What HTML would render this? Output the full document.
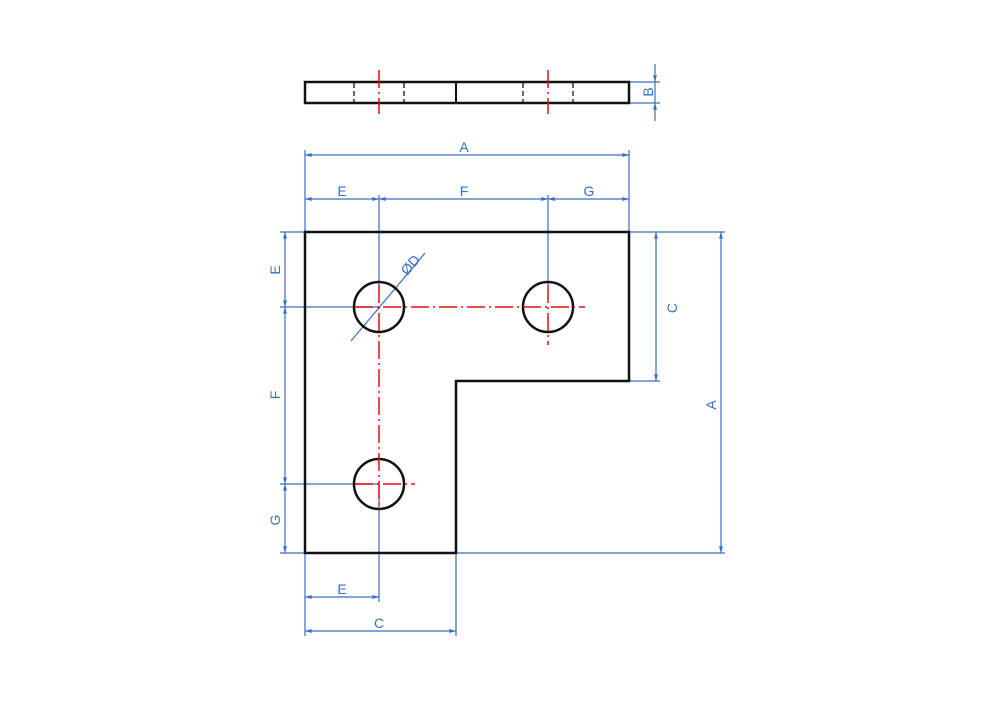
<!DOCTYPE html>
<html><head><style>html,body{margin:0;padding:0;background:#fff}</style></head>
<body>
<svg width="1000" height="700" viewBox="0 0 1000 700" xmlns="http://www.w3.org/2000/svg">
<defs>
<marker id="ar" viewBox="0 0 10 6" refX="10" refY="3" markerWidth="8" markerHeight="4" orient="auto-start-reverse" markerUnits="userSpaceOnUse">
<path d="M0,0 L10,3 L0,6 Z" fill="#3a6fc4"/></marker>
</defs>
<g stroke="#3a6fc4" stroke-width="1.2" fill="none">
<!-- top view B -->
<line x1="629" y1="82" x2="660" y2="82"/><line x1="629" y1="103" x2="660" y2="103"/>
<line x1="655" y1="64" x2="655" y2="82" marker-end="url(#ar)"/>
<line x1="655" y1="121" x2="655" y2="103" marker-end="url(#ar)"/>
<line x1="655" y1="82" x2="655" y2="103"/>
<!-- A top -->
<line x1="305" y1="150" x2="305" y2="240"/><line x1="629" y1="150" x2="629" y2="282"/>
<line x1="305" y1="155" x2="629" y2="155" marker-start="url(#ar)" marker-end="url(#ar)"/>
<line x1="379" y1="195" x2="379" y2="290"/><line x1="548" y1="195" x2="548" y2="285"/>
<line x1="305" y1="199" x2="379" y2="199" marker-start="url(#ar)" marker-end="url(#ar)"/>
<line x1="379" y1="199" x2="548" y2="199" marker-start="url(#ar)" marker-end="url(#ar)"/>
<line x1="548" y1="199" x2="629" y2="199" marker-start="url(#ar)" marker-end="url(#ar)"/>
<!-- left -->
<line x1="280" y1="232" x2="305" y2="232"/><line x1="280" y1="307" x2="379" y2="307"/>
<line x1="280" y1="484" x2="379" y2="484"/><line x1="280" y1="553" x2="305" y2="553"/>
<line x1="285" y1="232" x2="285" y2="307" marker-start="url(#ar)" marker-end="url(#ar)"/>
<line x1="285" y1="307" x2="285" y2="484" marker-start="url(#ar)" marker-end="url(#ar)"/>
<line x1="285" y1="484" x2="285" y2="553" marker-start="url(#ar)" marker-end="url(#ar)"/>
<!-- right -->
<line x1="629" y1="232" x2="725" y2="232"/><line x1="629" y1="381" x2="660" y2="381"/>
<line x1="456" y1="553" x2="725" y2="553"/>
<line x1="656" y1="232" x2="656" y2="381" marker-start="url(#ar)" marker-end="url(#ar)"/>
<line x1="721" y1="232" x2="721" y2="553" marker-start="url(#ar)" marker-end="url(#ar)"/>
<!-- bottom -->
<line x1="305" y1="553" x2="305" y2="636"/><line x1="379" y1="484" x2="379" y2="602"/>
<line x1="456" y1="553" x2="456" y2="636"/>
<line x1="305" y1="597" x2="379" y2="597" marker-start="url(#ar)" marker-end="url(#ar)"/>
<line x1="305" y1="631" x2="456" y2="631" marker-start="url(#ar)" marker-end="url(#ar)"/>
<!-- diameter -->
<line x1="351" y1="341" x2="425" y2="253"/>
</g>
<!-- top view -->
<g stroke="#111" fill="none">
<rect x="305" y="82" width="324" height="21" stroke-width="2.5"/>
<line x1="456" y1="82" x2="456" y2="103" stroke-width="2"/>
<g stroke-width="1.3" stroke-dasharray="5,3">
<line x1="354" y1="83" x2="354" y2="103"/><line x1="404" y1="83" x2="404" y2="103"/>
<line x1="523" y1="83" x2="523" y2="103"/><line x1="573" y1="83" x2="573" y2="103"/>
</g>
<path d="M305 232 H629 V381 H456 V553 H305 Z" stroke-width="2.5"/>
<circle cx="379" cy="307" r="25" stroke-width="2.5"/>
<circle cx="548" cy="307" r="25" stroke-width="2.5"/>
<circle cx="379" cy="484" r="25" stroke-width="2.5"/>
</g>
<g stroke="#e01010" stroke-width="1.5" fill="none" stroke-dasharray="18,4,2,4">
<line x1="379" y1="70" x2="379" y2="114"/><line x1="548" y1="70" x2="548" y2="114"/>
<line x1="355" y1="307" x2="585" y2="307"/>
<line x1="379" y1="285" x2="379" y2="510"/>
<line x1="548" y1="285" x2="548" y2="345"/>
<line x1="355" y1="484" x2="415" y2="484"/>
</g>
<g fill="#3a6fc4" font-family="Liberation Sans, sans-serif" font-size="14" text-anchor="middle">
<text x="464" y="152">A</text>
<text x="342" y="196">E</text><text x="464" y="196">F</text><text x="589" y="196">G</text>
<text x="342" y="594">E</text><text x="379" y="628">C</text>
<text transform="translate(653,92) rotate(-90)">B</text>
<text transform="translate(280,270) rotate(-90)">E</text>
<text transform="translate(280,395) rotate(-90)">F</text>
<text transform="translate(280,520) rotate(-90)">G</text>
<text transform="translate(677,308) rotate(-90)">C</text>
<text transform="translate(716,405) rotate(-90)">A</text>
<text transform="translate(414,268) rotate(-50)">ØD</text>
</g>
</svg>
</body></html>
